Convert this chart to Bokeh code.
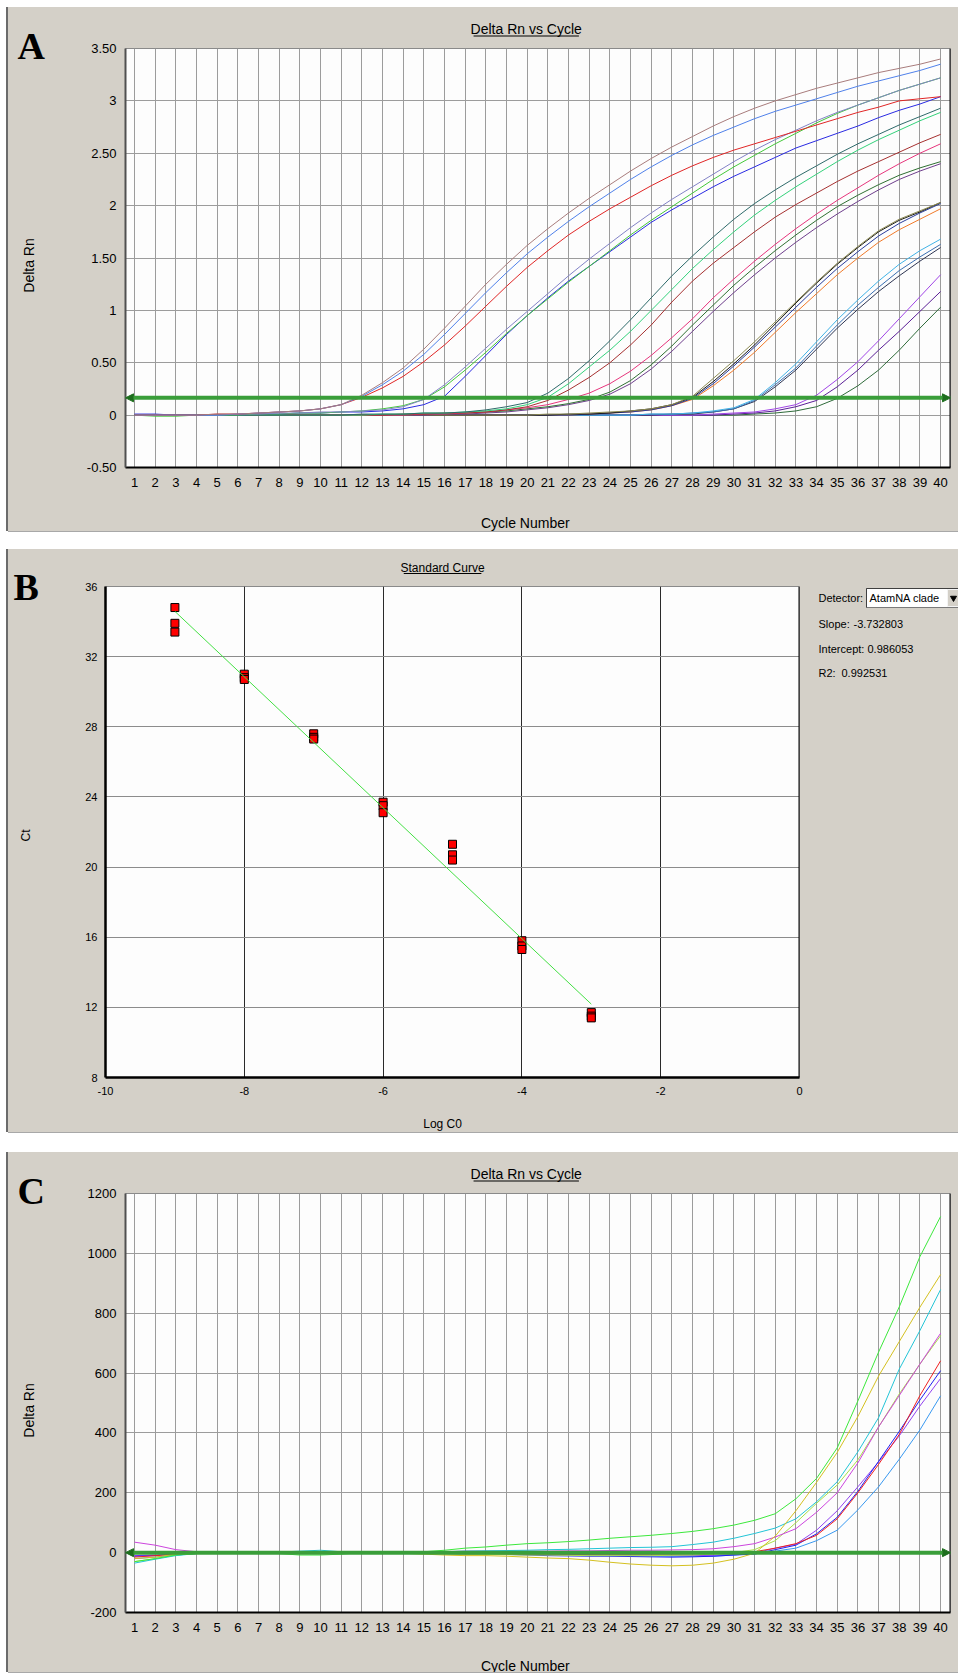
import math
from bokeh.plotting import figure
from bokeh.models import FixedTicker, Arrow, NormalHead, Span, Spacer
from bokeh.layouts import column, row
from bokeh.core.properties import value
from bokeh.embed import file_html
from bokeh.resources import INLINE

# ---------------- data ----------------
cycles = list(range(1, 41))
cycle_labels = [str(c) for c in cycles]

rn_a_ticks = [-0.5, 0, 0.5, 1, 1.5, 2, 2.5, 3, 3.5]
rn_a_labels = ["-0.50", "0", "0.50", "1", "1.50", "2", "2.50", "3", "3.50"]
rn_c_ticks = [-200, 0, 200, 400, 600, 800, 1000, 1200]
rn_c_labels = ["-200", "0", "200", "400", "600", "800", "1000", "1200"]
threshold_a = 0.165
threshold_c = 0

# Panel A: Delta Rn per cycle (dilution series)
a_brown = [0.00, 0.00, 0.00, 0.00, 0.01, 0.01, 0.02, 0.03, 0.04, 0.06,
           0.10, 0.19, 0.31, 0.45, 0.63, 0.83, 1.04, 1.25, 1.44, 1.62,
           1.78, 1.93, 2.07, 2.20, 2.33, 2.45, 2.56, 2.66, 2.76, 2.85,
           2.93, 3.00, 3.06, 3.12, 3.17, 3.22, 3.27, 3.31, 3.35, 3.40]
a_cornflower = [0.00, 0.00, 0.00, 0.00, 0.00, 0.01, 0.02, 0.03, 0.04, 0.06,
                0.10, 0.18, 0.29, 0.42, 0.58, 0.77, 0.97, 1.17, 1.36, 1.54,
                1.70, 1.85, 1.99, 2.12, 2.25, 2.37, 2.48, 2.58, 2.67, 2.75,
                2.83, 2.90, 2.96, 3.02, 3.08, 3.14, 3.19, 3.24, 3.29, 3.35]
a_red = [0.00, 0.00, 0.00, 0.00, 0.01, 0.01, 0.02, 0.03, 0.04, 0.06,
         0.10, 0.17, 0.26, 0.37, 0.51, 0.67, 0.85, 1.04, 1.23, 1.41,
         1.57, 1.72, 1.85, 1.97, 2.08, 2.19, 2.29, 2.38, 2.46, 2.53,
         2.59, 2.65, 2.71, 2.77, 2.83, 2.89, 2.94, 3.00, 3.02, 3.04]
a_slate = [0.00, 0.00, 0.00, 0.00, 0.00, 0.01, 0.01, 0.02, 0.02, 0.03,
           0.03, 0.04, 0.05, 0.08, 0.15, 0.29, 0.46, 0.64, 0.82, 0.99,
           1.16, 1.33, 1.49, 1.64, 1.79, 1.93, 2.06, 2.18, 2.30, 2.42,
           2.53, 2.63, 2.72, 2.81, 2.89, 2.96, 3.03, 3.10, 3.16, 3.22]
a_green = [0.00, -0.01, -0.01, 0.00, 0.00, 0.00, 0.01, 0.01, 0.02, 0.02,
           0.03, 0.04, 0.06, 0.09, 0.15, 0.27, 0.43, 0.60, 0.78, 0.95,
           1.11, 1.27, 1.42, 1.57, 1.72, 1.86, 1.99, 2.12, 2.25, 2.37,
           2.48, 2.59, 2.69, 2.79, 2.88, 2.96, 3.03, 3.10, 3.16, 3.22]
a_blue = [0.01, 0.01, 0.00, 0.00, 0.00, 0.00, 0.01, 0.01, 0.02, 0.02,
          0.03, 0.03, 0.04, 0.06, 0.10, 0.18, 0.37, 0.57, 0.77, 0.95,
          1.12, 1.28, 1.42, 1.56, 1.70, 1.84, 1.96, 2.07, 2.18, 2.28,
          2.37, 2.46, 2.55, 2.62, 2.69, 2.76, 2.84, 2.91, 2.97, 3.04]
a_teal = [0.00, 0.00, 0.00, 0.00, 0.00, 0.00, 0.00, 0.00, 0.00, 0.00,
          0.00, 0.01, 0.01, 0.01, 0.02, 0.02, 0.03, 0.05, 0.08, 0.12,
          0.21, 0.35, 0.52, 0.71, 0.91, 1.12, 1.33, 1.52, 1.70, 1.87,
          2.02, 2.15, 2.27, 2.38, 2.49, 2.59, 2.68, 2.77, 2.85, 2.93]
a_spring = [0.00, 0.00, 0.00, 0.00, 0.00, 0.00, 0.00, 0.00, 0.00, 0.00,
            0.00, 0.00, 0.01, 0.01, 0.02, 0.02, 0.03, 0.04, 0.06, 0.10,
            0.17, 0.30, 0.46, 0.62, 0.80, 1.00, 1.20, 1.40, 1.58, 1.75,
            1.91, 2.05, 2.18, 2.30, 2.42, 2.53, 2.63, 2.72, 2.81, 2.89]
a_maroon = [0.00, 0.00, 0.00, 0.00, 0.00, 0.00, 0.00, 0.00, 0.00, 0.00,
            0.00, 0.00, 0.00, 0.01, 0.01, 0.02, 0.02, 0.03, 0.05, 0.08,
            0.14, 0.24, 0.36, 0.50, 0.67, 0.86, 1.08, 1.28, 1.45, 1.60,
            1.75, 1.89, 2.01, 2.12, 2.23, 2.33, 2.42, 2.51, 2.60, 2.68]
a_pink = [0.00, 0.00, 0.00, 0.00, 0.00, 0.00, 0.00, 0.00, 0.00, 0.00,
          0.00, 0.00, 0.00, 0.00, 0.01, 0.01, 0.02, 0.03, 0.05, 0.07,
          0.10, 0.15, 0.21, 0.30, 0.42, 0.57, 0.74, 0.92, 1.12, 1.30,
          1.47, 1.63, 1.78, 1.92, 2.05, 2.17, 2.29, 2.40, 2.50, 2.59]
a_forest = [0.00, 0.00, 0.00, 0.00, 0.00, 0.00, 0.00, 0.00, 0.00, 0.00,
            0.00, 0.00, 0.00, 0.00, 0.01, 0.01, 0.02, 0.03, 0.04, 0.06,
            0.08, 0.11, 0.15, 0.22, 0.33, 0.48, 0.66, 0.86, 1.05, 1.24,
            1.41, 1.57, 1.72, 1.86, 1.99, 2.10, 2.20, 2.29, 2.36, 2.42]
a_plum = [0.00, 0.00, 0.00, 0.00, 0.00, 0.00, 0.00, 0.00, 0.00, 0.00,
          0.00, 0.00, 0.00, 0.00, 0.00, 0.01, 0.01, 0.02, 0.03, 0.05,
          0.07, 0.10, 0.14, 0.20, 0.30, 0.44, 0.61, 0.80, 0.99, 1.17,
          1.34, 1.50, 1.65, 1.79, 1.92, 2.04, 2.15, 2.25, 2.33, 2.40]
a_olive = [0.00, 0.00, 0.00, 0.00, 0.00, 0.00, 0.00, 0.00, 0.00, 0.00,
           0.00, 0.00, 0.00, 0.00, 0.00, 0.00, 0.00, 0.00, 0.00, 0.00,
           0.01, 0.01, 0.02, 0.03, 0.04, 0.06, 0.10, 0.18, 0.35, 0.52,
           0.70, 0.89, 1.08, 1.27, 1.45, 1.61, 1.76, 1.87, 1.95, 2.03]
a_black = [0.00, 0.00, 0.00, 0.00, 0.00, 0.00, 0.00, 0.00, 0.00, 0.00,
           0.00, 0.00, 0.00, 0.00, 0.00, 0.00, 0.00, 0.00, 0.00, 0.00,
           0.00, 0.01, 0.01, 0.02, 0.04, 0.06, 0.10, 0.17, 0.32, 0.49,
           0.67, 0.87, 1.07, 1.26, 1.44, 1.60, 1.75, 1.86, 1.94, 2.03]
a_navy = [0.00, 0.00, 0.00, 0.00, 0.00, 0.00, 0.00, 0.00, 0.00, 0.00,
          0.00, 0.00, 0.00, 0.00, 0.00, 0.00, 0.00, 0.00, 0.00, 0.00,
          0.00, 0.00, 0.01, 0.02, 0.03, 0.05, 0.09, 0.16, 0.30, 0.47,
          0.65, 0.84, 1.03, 1.22, 1.40, 1.56, 1.71, 1.83, 1.93, 2.02]
a_orange = [0.00, 0.00, 0.00, 0.00, 0.00, 0.00, 0.00, 0.00, 0.00, 0.00,
            0.00, 0.00, 0.00, 0.00, 0.00, 0.00, 0.00, 0.00, 0.00, 0.00,
            0.00, 0.00, 0.01, 0.02, 0.03, 0.05, 0.09, 0.15, 0.28, 0.43,
            0.60, 0.79, 0.98, 1.16, 1.34, 1.50, 1.65, 1.77, 1.87, 1.97]
a_sky = [0.00, 0.00, 0.00, 0.00, 0.00, 0.00, 0.00, 0.00, 0.00, 0.00,
         0.00, 0.00, 0.00, 0.00, 0.00, 0.00, 0.00, 0.00, 0.00, 0.00,
         0.00, 0.00, 0.00, 0.00, 0.00, 0.01, 0.01, 0.02, 0.04, 0.07,
         0.15, 0.31, 0.49, 0.70, 0.91, 1.10, 1.28, 1.44, 1.57, 1.68]
a_steel = [0.00, 0.00, 0.00, 0.00, 0.00, 0.00, 0.00, 0.00, 0.00, 0.00,
           0.00, 0.00, 0.00, 0.00, 0.00, 0.00, 0.00, 0.00, 0.00, 0.00,
           0.00, 0.00, 0.00, 0.00, 0.00, 0.01, 0.01, 0.02, 0.03, 0.06,
           0.14, 0.29, 0.45, 0.66, 0.86, 1.05, 1.22, 1.38, 1.51, 1.63]
a_slate_dark = [0.00, 0.00, 0.00, 0.00, 0.00, 0.00, 0.00, 0.00, 0.00, 0.00,
                0.00, 0.00, 0.00, 0.00, 0.00, 0.00, 0.00, 0.00, 0.00, 0.00,
                0.00, 0.00, 0.00, 0.00, 0.00, 0.00, 0.01, 0.01, 0.03, 0.06,
                0.13, 0.27, 0.43, 0.63, 0.83, 1.01, 1.18, 1.33, 1.47, 1.60]
a_violet = [0.00, 0.00, 0.00, 0.00, 0.00, 0.00, 0.00, 0.00, 0.00, 0.00,
            0.00, 0.00, 0.00, 0.00, 0.00, 0.00, 0.00, 0.00, 0.00, 0.00,
            0.00, 0.00, 0.00, 0.00, 0.00, 0.00, 0.00, 0.00, 0.01, 0.02,
            0.03, 0.06, 0.10, 0.19, 0.34, 0.51, 0.71, 0.92, 1.13, 1.34]
a_indigo = [0.00, 0.00, 0.00, 0.00, 0.00, 0.00, 0.00, 0.00, 0.00, 0.00,
            0.00, 0.00, 0.00, 0.00, 0.00, 0.00, 0.00, 0.00, 0.00, 0.00,
            0.00, 0.00, 0.00, 0.00, 0.00, 0.00, 0.00, 0.00, 0.00, 0.01,
            0.02, 0.04, 0.08, 0.14, 0.27, 0.43, 0.62, 0.80, 0.99, 1.18]
a_pine = [0.00, 0.00, 0.00, 0.00, 0.00, 0.00, 0.00, 0.00, 0.00, 0.00,
          0.00, 0.00, 0.00, 0.00, 0.00, 0.00, 0.00, 0.00, 0.00, 0.00,
          0.00, 0.00, 0.00, 0.00, 0.00, 0.00, 0.00, 0.00, 0.00, 0.00,
          0.01, 0.02, 0.04, 0.08, 0.16, 0.28, 0.43, 0.62, 0.83, 1.03]

series_a = [
    (a_pine, "#2F6B3A"), (a_indigo, "#5A1E96"), (a_violet, "#A044E6"),
    (a_slate_dark, "#2E3552"), (a_steel, "#3A6EB0"), (a_sky, "#41B2E6"),
    (a_orange, "#F07A2A"), (a_navy, "#2A3C9C"), (a_black, "#1A1A1A"), (a_olive, "#8C8A52"),
    (a_plum, "#6E3E8C"), (a_forest, "#2F7032"), (a_pink, "#E6357C"),
    (a_maroon, "#A63030"), (a_spring, "#33D17A"), (a_teal, "#2E6A6A"),
    (a_blue, "#2A2AE2"), (a_green, "#44C83A"), (a_slate, "#8282C6"),
    (a_red, "#E02626"), (a_cornflower, "#4F80EA"), (a_brown, "#A87C7C"),
]

# Panel C: Delta Rn per cycle
c_green = [-30, -20, -8, -3, 0, 0, 0, -3, -8, -8,
           -5, 0, 0, 0, 3, 8, 15, 19, 25, 30,
           33, 37, 42, 48, 53, 58, 64, 71, 80, 92,
           108, 130, 180, 248, 350, 507, 670, 821, 989, 1123]
c_yellow = [-20, -15, -5, -3, -2, 0, 0, 0, 0, 0,
            0, 0, 0, -2, -5, -8, -10, -10, -12, -15,
            -18, -20, -25, -32, -38, -42, -44, -42, -35, -22,
            -2, 55, 140, 235, 335, 455, 590, 705, 820, 929]
c_cyan = [-35, -22, -10, -3, 0, 0, 0, 2, 5, 8,
          3, 0, 0, -3, 0, 3, 5, 6, 7, 8,
          10, 11, 13, 15, 17, 18, 20, 27, 35, 48,
          64, 82, 113, 170, 237, 337, 451, 613, 742, 879]
c_magenta = [35, 25, 10, 3, 0, 0, 0, 0, 0, 0,
             0, 0, 0, 0, 0, 3, 5, 5, 5, 5,
             5, 6, 6, 7, 8, 8, 9, 10, 13, 20,
             30, 52, 80, 135, 200, 300, 420, 525, 630, 733]
c_lime = [-30, -20, -8, -3, 0, 0, 0, 0, 0, 0,
          0, 0, 0, 0, -2, -4, -5, -6, -7, -8,
          -8, -9, -10, -10, -10, -10, -9, -8, -5, 0,
          10, 40, 100, 165, 226, 310, 420, 530, 630, 725]
c_red = [-15, -10, -5, -2, 0, 0, 0, 0, 0, 0,
         0, 0, 0, 0, -2, -3, -4, -5, -5, -5,
         -5, -5, -5, -5, -5, -5, -5, -4, -3, 0,
         3, 15, 30, 58, 113, 200, 295, 395, 525, 641]
c_blue = [-12, -10, -5, -2, 0, 0, 0, 0, 0, 0,
          0, 0, 0, 0, -2, -3, -4, -5, -6, -8,
          -10, -11, -12, -12, -13, -14, -15, -14, -12, -8,
          -5, 10, 25, 63, 118, 205, 305, 405, 510, 608]
c_purple = [-10, -8, -4, -2, 0, 0, 0, 0, 0, 0,
            0, 0, 0, 0, 0, 0, 0, 0, -2, -3,
            -5, -6, -7, -8, -8, -9, -10, -10, -9, -6,
            -2, 15, 28, 75, 140, 220, 303, 390, 490, 582]
c_azure = [-20, -15, -8, -3, 0, 0, 0, 0, 0, 0,
           0, 0, 0, -3, -3, -3, -4, -5, -5, -6,
           -7, -8, -9, -10, -10, -11, -12, -12, -12, -8,
           -3, 5, 15, 40, 75, 143, 220, 312, 410, 524]

series_c = [
    (c_azure, "#3898F0"), (c_purple, "#9040F0"), (c_blue, "#2020F0"),
    (c_red, "#F02020"), (c_lime, "#A8E048"), (c_magenta, "#CC44DD"),
    (c_cyan, "#22C4D6"), (c_yellow, "#D4C020"), (c_green, "#3CE83C"),
]

# Panel B: standard curve
log_c0 = [-9, -9, -9, -8, -8, -8, -7, -7, -7, -6, -6, -6,
          -5, -5, -5, -4, -4, -4, -3, -3, -3]
ct_values = [34.8, 33.9, 33.4, 31.0, 30.8, 30.7, 27.6, 27.4, 27.3, 23.7, 23.5, 23.1,
             21.3, 20.7, 20.4, 15.8, 15.5, 15.3, 11.7, 11.5, 11.4]
slope = -3.732803
intercept = 0.986053
r2 = 0.992531
detector = "AtamNA clade"
logc_ticks = [-10, -8, -6, -4, -2, 0]
logc_labels = ["-10", "-8", "-6", "-4", "-2", "0"]
logc_grid = [-8, -6, -4, -2]
ct_ticks = [8, 12, 16, 20, 24, 28, 32, 36]
ct_labels = ["8", "12", "16", "20", "24", "28", "32", "36"]
ct_grid = [12, 16, 20, 24, 28, 32]

# ---------------- styling helpers ----------------
GRAY = "#D4D0C8"
FONT = "Liberation Sans"
LEFT_EDGE = {"box-shadow": "-2px 0 0 0 #6B6B6B"}
PANEL_BG = {"background-color": GRAY, "box-shadow": "0 1px 0 0 #A8A8A8"}


def text_fig(w, h, styles=None):
    """A plain grey strip whose frame is the whole canvas; coordinates are pixels."""
    p = figure(width=w, height=h, x_range=(0, w), y_range=(0, h), title=None,
               output_backend="svg", toolbar_location=None, min_border=0,
               x_axis_type=None, y_axis_type=None)
    p.border_fill_color = GRAY
    p.background_fill_color = GRAY
    p.outline_line_color = None
    if styles:
        p.styles = styles
    return p


def put_text(p, x, yt, text, size, align="left", baseline="middle", angle=0.0,
             font=FONT, style="normal"):
    p.text(x=[x], y=[p.height - yt], text=[text], angle=angle,
           text_font=value(font), text_font_size=value(size), text_font_style=style,
           text_align=align, text_baseline=baseline, text_color="#000000")


def put_underline(p, x0, x1, yt):
    p.line([x0, x1], [p.height - yt, p.height - yt], line_color="#000000", line_width=1)


def style_axes(p, size, xstand, ystand):
    for ax, st in ((p.xaxis[0], xstand), (p.yaxis[0], ystand)):
        ax.major_tick_line_color = None
        ax.minor_tick_line_color = None
        ax.major_tick_in = 0
        ax.major_tick_out = 0
        ax.major_label_standoff = st
        ax.major_label_text_font = FONT
        ax.major_label_text_font_size = size
        ax.major_label_text_color = "#000000"


def rn_main(h, mbt, mbb, y_ticks, y_labels, series, threshold):
    x0, x1 = 0.565, 40.48
    p = figure(width=877, height=h, x_range=(x0, x1), y_range=(y_ticks[0], y_ticks[-1]),
               title=None, output_backend="svg", toolbar_location=None,
               min_border_left=44, min_border_right=8, min_border_top=mbt,
               min_border_bottom=mbb)
    p.border_fill_color = GRAY
    p.background_fill_color = "#FDFDFD"
    p.outline_line_color = "#8A8A8A"
    p.xaxis.ticker = FixedTicker(ticks=cycles)
    p.xaxis.major_label_overrides = dict(zip(cycles, cycle_labels))
    p.yaxis.ticker = FixedTicker(ticks=y_ticks)
    p.yaxis.major_label_overrides = dict(zip(y_ticks, y_labels))
    p.xgrid.ticker = FixedTicker(ticks=cycles)
    p.ygrid.ticker = FixedTicker(ticks=y_ticks)
    for g in (p.xgrid[0], p.ygrid[0]):
        g.grid_line_color = "#9C9C9C"
        g.grid_line_width = 1
    style_axes(p, "13px", 10, 9)
    p.xaxis.axis_line_color = "#000000"
    p.xaxis.axis_line_width = 2
    p.yaxis.axis_line_color = "#505050"
    p.yaxis.axis_line_width = 2
    p.add_layout(Span(location=x1, dimension="height", line_color="#000000", line_width=2))

    for vals, col in series:
        p.line(cycles, vals, line_color=col, line_width=1)

    head = dict(size=8, fill_color="#1E6E1E", line_color="#1E6E1E")
    p.add_layout(Arrow(start=NormalHead(**head), end=NormalHead(**head),
                       x_start=x0, y_start=threshold, x_end=x1, y_end=threshold,
                       line_color="#3A9E3A", line_width=4))
    return p


def rn_panel(letter, main_h, mbt, mbb, foot_h, foot_text_y, y_ticks, y_labels, series,
             threshold):
    head_h = 31
    total_h = head_h + main_h + foot_h
    left = text_fig(73, total_h, LEFT_EDGE)
    put_text(left, 9, 38, letter, "38px", baseline="alphabetic",
             font="Liberation Serif", style="bold")
    put_text(left, 20, 258, "Delta Rn", "14px", align="center", angle=math.pi / 2)

    head = text_fig(877, head_h)
    put_text(head, 426, 21, "Delta Rn vs Cycle", "14px", align="center")
    put_underline(head, 370, 482, 28.5)

    main = rn_main(main_h, mbt, mbb, y_ticks, y_labels, series, threshold)

    foot = text_fig(877, foot_h)
    put_text(foot, 425, foot_text_y, "Cycle Number", "14px", align="center")
    inner = column(head, main, foot)
    inner.styles = {"background-color": GRAY}
    panel = row(left, inner)
    panel.styles = PANEL_BG
    return panel


# ---------------- panel A ----------------
panel_a = rn_panel("A", 456, 10, 27, 37, 28, rn_a_ticks, rn_a_labels, series_a,
                   threshold_a)

# ---------------- panel B ----------------
lb = text_fig(62, 583, LEFT_EDGE)
put_text(lb, 5, 37, "B", "38px", baseline="alphabetic", font="Liberation Serif",
         style="bold")
put_text(lb, 17, 286, "Ct", "12px", align="center", angle=math.pi / 2)

hb = text_fig(733, 27)
put_text(hb, 356, 18, "Standard Curve", "12px", align="center")
put_underline(hb, 315, 397, 24)

mb = figure(width=733, height=524, x_range=(logc_ticks[0], logc_ticks[-1]),
            y_range=(ct_ticks[0], ct_ticks[-1]), title=None,
            output_backend="svg", toolbar_location=None,
            min_border_left=35, min_border_right=4, min_border_top=10, min_border_bottom=23)
mb.border_fill_color = GRAY
mb.background_fill_color = "#FDFDFD"
mb.outline_line_color = "#8A8A8A"
mb.xaxis.ticker = FixedTicker(ticks=logc_ticks)
mb.xaxis.major_label_overrides = dict(zip(logc_ticks, logc_labels))
mb.yaxis.ticker = FixedTicker(ticks=ct_ticks)
mb.yaxis.major_label_overrides = dict(zip(ct_ticks, ct_labels))
mb.xgrid.ticker = FixedTicker(ticks=logc_grid)
mb.ygrid.ticker = FixedTicker(ticks=ct_grid)
mb.xgrid.grid_line_color = "#2A2A2A"
mb.ygrid.grid_line_color = "#8C8C8C"
style_axes(mb, "11px", 9, 8)
mb.xaxis.axis_line_color = "#000000"
mb.xaxis.axis_line_width = 2.5
mb.yaxis.axis_line_color = "#000000"
mb.yaxis.axis_line_width = 2.5
mb.add_layout(Span(location=logc_ticks[-1], dimension="height", line_color="#000000",
                   line_width=2))
mb.scatter(log_c0, ct_values, marker="square", size=8, fill_color="#FF0000",
           line_color="#000000", line_width=1)
fit_x = [min(log_c0), max(log_c0)]
fit_y = [slope * x + intercept for x in fit_x]
mb.line(fit_x, fit_y, line_color="#44E044", line_width=1)

fb = text_fig(733, 32)
put_text(fb, 356, 23, "Log C0", "12px", align="center")

rb = text_fig(155, 583)
put_text(rb, 15, 48, "Detector:", "11px")
rb.quad(left=[63], right=[160], top=[583 - 39], bottom=[583 - 58],
        fill_color="#FFFFFF", line_color="#7A7A7A", line_width=1)
rb.line([63, 63, 160], [583 - 58, 583 - 39, 583 - 39], line_color="#404040", line_width=1)
rb.quad(left=[144], right=[160], top=[583 - 40], bottom=[583 - 57],
        fill_color=GRAY, line_color="#F4F4F4", line_width=1)
rb.scatter([150], [583 - 48.5], marker="inverted_triangle", size=6,
           fill_color="#000000", line_color="#000000")
put_text(rb, 66, 48, detector, "11px")
put_text(rb, 15, 74, "Slope:", "11px")
put_text(rb, 50, 74, f"{slope:.6f}", "11px")
put_text(rb, 15, 99, "Intercept:", "11px")
put_text(rb, 64, 99, f"{intercept:.6f}", "11px")
put_text(rb, 15, 123, "R2:", "11px")
put_text(rb, 38, 123, f"{r2:.6f}", "11px")

inner_b = column(hb, mb, fb)
inner_b.styles = {"background-color": GRAY}
panel_b = row(lb, inner_b, rb)
panel_b.styles = PANEL_BG

# ---------------- panel C ----------------
panel_c = rn_panel("C", 455, 10, 26, 34, 27, rn_c_ticks, rn_c_labels, series_c,
                   threshold_c)

page = row(Spacer(width=8),
           column(Spacer(height=7), panel_a, Spacer(height=18), panel_b,
                  Spacer(height=20), panel_c))
open("out.html", "w").write(file_html(page, INLINE))
